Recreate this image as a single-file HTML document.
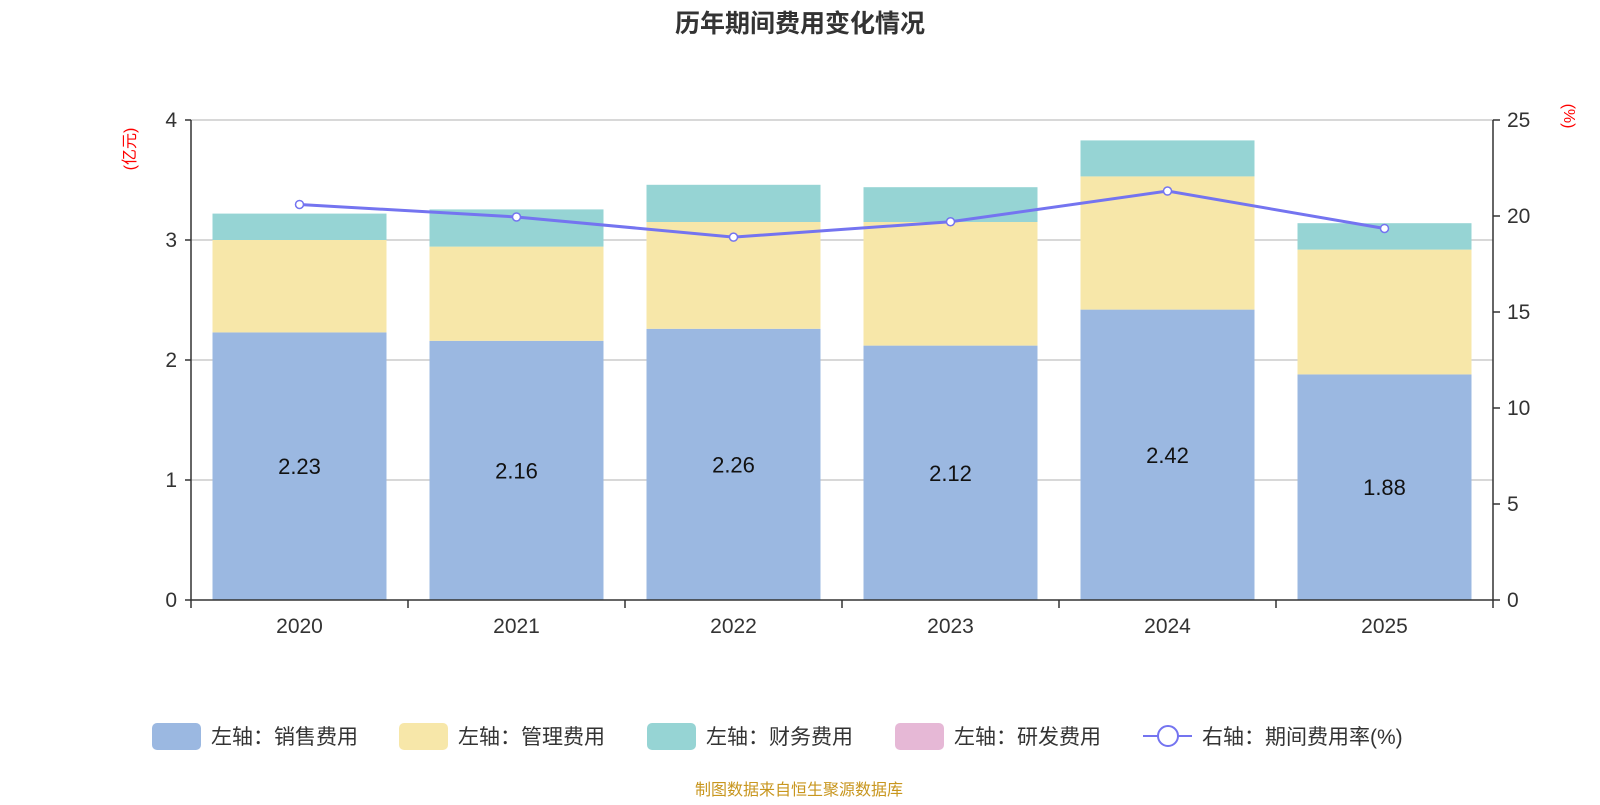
<!DOCTYPE html>
<html><head><meta charset="utf-8"><style>
body{margin:0;background:#fff;font-family:"Liberation Sans","Noto Sans CJK SC",sans-serif}
svg text{font-family:"Liberation Sans","Noto Sans CJK SC",sans-serif}
</style></head><body>
<svg id="c" width="1600" height="800" xmlns="http://www.w3.org/2000/svg">
<text x="800" y="32" text-anchor="middle" font-size="25" font-weight="bold" fill="#333">历年期间费用变化情况</text>
<text transform="translate(135,149) rotate(-90)" text-anchor="middle" font-size="16" fill="#f00">(亿元)</text>
<text transform="translate(1564,116) rotate(90)" text-anchor="middle" font-size="16" fill="#f00">(%)</text>
<g id="g"></g>
<g font-size="21" fill="#333">
<g><rect x="152" y="723" width="49" height="27" rx="5" fill="#9bb8e1"/><text x="211" y="744">左轴：销售费用</text></g>
<g><rect x="399" y="723" width="49" height="27" rx="5" fill="#f7e7a9"/><text x="458" y="744">左轴：管理费用</text></g>
<g><rect x="647" y="723" width="49" height="27" rx="5" fill="#96d4d4"/><text x="706" y="744">左轴：财务费用</text></g>
<g><rect x="895" y="723" width="49" height="27" rx="5" fill="#e6b8d6"/><text x="954" y="744">左轴：研发费用</text></g>
<g><line x1="1143" y1="736" x2="1192" y2="736" stroke="#7474f0" stroke-width="2"/><circle cx="1168" cy="736" r="10" fill="#fff" stroke="#7474f0" stroke-width="2"/><text x="1202" y="744">右轴：期间费用率(%)</text></g>
</g>
<text x="799" y="795" text-anchor="middle" font-size="16" fill="#c8961e">制图数据来自恒生聚源数据库</text>
</svg>
<script>
const years=["2020","2021","2022","2023","2024","2025"];
const sales=[2.23,2.16,2.26,2.12,2.42,1.88];
const admin=[0.77,0.785,0.89,1.03,1.11,1.04];
const finance=[0.22,0.31,0.31,0.29,0.30,0.22];
const rate=[20.6,19.95,18.9,19.7,21.3,19.35];
const leftTicks=[0,1,2,3,4];
const rightTicks=[0,5,10,15,20,25];
const NS="http://www.w3.org/2000/svg",g=document.getElementById('g');
const X0=191,X1=1493,Y0=600,Y1=120,band=(X1-X0)/years.length,bw=174;
const yl=v=>Y0-(Y0-Y1)*v/4, yr=v=>Y0-(Y0-Y1)*v/25, xc=i=>X0+band*(i+0.5);
function mk(t,a,p){const e=document.createElementNS(NS,t);for(const k in a)e.setAttribute(k,a[k]);(p||g).appendChild(e);return e;}
leftTicks.forEach(v=>{
 if(v>0){const l=mk('line',{x1:X0,x2:X1,y1:yl(v),y2:yl(v),stroke:'#ccc','stroke-width':1.5});
 
 }
 mk('line',{x1:X0-6,x2:X0,y1:yl(v),y2:yl(v),stroke:'#333','stroke-width':1.5});
 const t=mk('text',{x:X0-14,y:yl(v)+7,'text-anchor':'end','font-size':21,fill:'#333'});t.textContent=v;
 
 
});
rightTicks.forEach(v=>{
 mk('line',{x1:X1,x2:X1+7,y1:yr(v),y2:yr(v),stroke:'#333','stroke-width':1.5});
 const t=mk('text',{x:X1+14,y:yr(v)+7,'font-size':21,fill:'#333'});t.textContent=v;
 
 
});
years.forEach((y,i)=>{
 const x=xc(i)-bw/2;let base=0;
 [[sales,'#9bb8e1','bar-sales'],[admin,'#f7e7a9','bar-admin'],[finance,'#96d4d4','bar-finance']].forEach(([arr,c,n])=>{
  const r=mk('rect',{x:x,width:bw,y:yl(base+arr[i]),height:yl(base)-yl(base+arr[i]),fill:c});
  
  
  base+=arr[i];
 });
 const t=mk('text',{x:xc(i),y:(yl(0)+yl(sales[i]))/2+8,'text-anchor':'middle','font-size':22,fill:'#111'});t.textContent=sales[i].toFixed(2);
 
 
 const xt=mk('text',{x:xc(i),y:Y0+33,'text-anchor':'middle','font-size':21,fill:'#333'});xt.textContent=y;
 
 
});
for(let i=0;i<=years.length;i++)mk('line',{x1:X0+band*i,x2:X0+band*i,y1:Y0,y2:Y0+8,stroke:'#333','stroke-width':1.5});
const ax=mk('line',{x1:X0,x2:X1,y1:Y0,y2:Y0,stroke:'#333','stroke-width':1.5});


const la=mk('line',{x1:X0,x2:X0,y1:Y1,y2:Y0,stroke:'#333','stroke-width':1.5});


const ra=mk('line',{x1:X1,x2:X1,y1:Y1,y2:Y0,stroke:'#333','stroke-width':1.5});


const pl=mk('polyline',{points:rate.map((v,i)=>xc(i)+','+yr(v)).join(' '),fill:'none',stroke:'#7474f0','stroke-width':3});


rate.forEach((v,i)=>{const c=mk('circle',{cx:xc(i),cy:yr(v),r:4,fill:'#fff',stroke:'#7474f0','stroke-width':1.5});
 
 });
</script>
</body></html>
